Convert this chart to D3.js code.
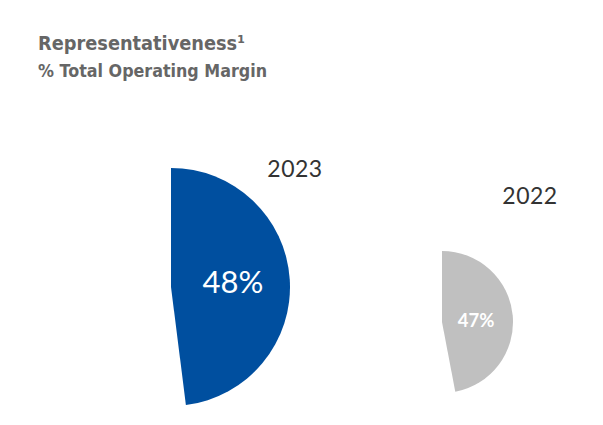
<!DOCTYPE html>
<html>
<head>
<meta charset="utf-8">
<script src="https://cdn.jsdelivr.net/npm/d3@7"></script>
<style>
  body { margin: 0; background: #fff; }
  text { font-family: "Lato", "Open Sans", sans-serif; }
  .title { font-family: "DejaVu Sans", sans-serif; }
</style>
</head>
<body>
<div id="chart"></div>
<script>
  var years = ["2023", "2022"];
  var shares = [48, 47];
  var labels = ["48%", "47%"];

  var width = 603, height = 425;

  var svg = d3.select("#chart").append("svg")
      .attr("width", width)
      .attr("height", height);

  // title block (unicode superscript so it stays a single text)
  svg.append("text")
      .attr("class", "title")
      .attr("x", 38).attr("y", 50)
      .attr("fill", "#666")
      .attr("font-size", 20)
      .attr("font-weight", "bold")
      .attr("textLength", 207)
      .attr("lengthAdjust", "spacingAndGlyphs")
      .text("Representativeness\u00b9");

  svg.append("text")
      .attr("class", "title")
      .attr("x", 38).attr("y", 77)
      .attr("fill", "#666")
      .attr("font-size", 17)
      .attr("font-weight", "bold")
      .attr("textLength", 229)
      .attr("lengthAdjust", "spacingAndGlyphs")
      .text("% Total Operating Margin");

  // one partial pie per year, only the share slice is drawn
  var pies = [
    {cx: 171, cy: 287, r: 119, color: "#004f9f", labelX: 295, labelY: 177, pctSize: 31, pctWeight: "normal", pctDx: 62, pctDy: -5},
    {cx: 442, cy: 322, r: 71, color: "#c0c0c0", labelX: 530, labelY: 204, pctSize: 18.5, pctWeight: "bold", pctDx: 34, pctDy: -1}
  ];

  var pie = d3.pie().sort(null).value(function(d) { return d; });

  pies.forEach(function(p, i) {
    var arcs = pie([shares[i], 100 - shares[i]]);
    var arc = d3.arc().innerRadius(0).outerRadius(p.r);

    var g = svg.append("g").attr("transform", "translate(" + p.cx + "," + p.cy + ")");

    g.append("path")
        .attr("d", arc(arcs[0]))
        .attr("fill", p.color);

    g.append("text")
        .attr("x", p.pctDx)
        .attr("y", p.pctDy)
        .attr("dy", "0.35em")
        .attr("text-anchor", "middle")
        .attr("fill", "#fff")
        .attr("font-size", p.pctSize)
        .attr("font-weight", p.pctWeight)
        .text(labels[i]);

    svg.append("text")
        .attr("x", p.labelX)
        .attr("y", p.labelY)
        .attr("text-anchor", "middle")
        .attr("fill", "#333")
        .attr("font-size", 23)
        .attr("letter-spacing", 0.5)
        .text(years[i]);
  });
</script>
</body>
</html>
